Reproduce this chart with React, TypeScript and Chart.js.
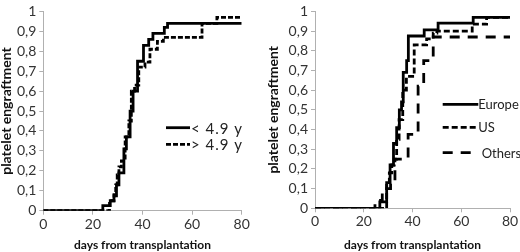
import React, { useEffect, useRef } from "react";
import { Chart, registerables } from "chart.js";

Chart.register(...registerables);

// ---------- data ----------
const xTickLabels = ["0", "20", "40", "60", "80"];
const yTickLabels = ["0", "0,1", "0,2", "0,3", "0,4", "0,5", "0,6", "0,7", "0,8", "0,9", "1"];

// left panel: age groups
const youngLabel = "< 4.9 y";
const youngDays = [0, 24, 27, 28.5, 29.5, 30.5, 32.5, 33.5, 35, 36.2, 38, 40.4, 42.5, 44.2, 48.8, 50.1, 80];
const youngValues = [0, 0.025, 0.05, 0.075, 0.13, 0.19, 0.31, 0.37, 0.5, 0.6, 0.75, 0.83, 0.86, 0.89, 0.92, 0.94, 0.94];

const olderLabel = "> 4.9 y";
const olderDays = [0, 26.7, 28.5, 29.2, 29.8, 30.5, 31.5, 33, 34.5, 35.5, 36.8, 38.5, 41, 43, 46, 48.4, 64, 70, 80];
const olderValues = [0, 0.05, 0.08, 0.13, 0.18, 0.22, 0.25, 0.37, 0.45, 0.6, 0.63, 0.72, 0.745, 0.81, 0.85, 0.87, 0.94, 0.97, 0.97];

// right panel: regions
const europeLabel = "Europe";
const europeDays = [0, 26.6, 29.4, 30.8, 32.2, 33.5, 34.6, 35.5, 36.2, 37.6, 38.3, 44.8, 50.5, 64.9, 80];
const europeValues = [0, 0.033, 0.13, 0.22, 0.33, 0.41, 0.5, 0.54, 0.69, 0.75, 0.875, 0.906, 0.94, 0.97, 0.97];

const usLabel = "US";
const usDays = [0, 29.4, 30.5, 31.5, 32.5, 33.5, 34.5, 36, 37.5, 40.7, 45.8, 48.5, 50, 64.5, 70.4, 80];
const usValues = [0, 0.125, 0.18, 0.22, 0.25, 0.35, 0.45, 0.6, 0.67, 0.83, 0.86, 0.89, 0.9, 0.935, 0.97, 0.97];

const othersLabel = "Others";
const othersDays = [0, 24.6, 27.6, 31, 32.8, 38.2, 42.3, 44.6, 48.5, 80];
const othersValues = [0, 0.04, 0.1, 0.13, 0.25, 0.375, 0.62, 0.75, 0.87, 0.87];

const xTitle = "days from transplantation";
const yTitle = "platelet engraftment";

// ---------- styling ----------
const FONT = "Lato, 'Liberation Sans', sans-serif";
const SOLID: number[] = [];
const SHORT_DASH = [5, 2];
const US_DASH = [6, 3];
const LONG_DASH = [10, 8];

const toPoints = (days: number[], vals: number[]) => days.map((d, i) => ({ x: d, y: vals[i] }));

const legendPlugin = {
  id: "inlineLegend",
  afterDraw(chart: any, _args: any, opts: any) {
    const { ctx } = chart;
    const items = opts.items || [];
    ctx.save();
    items.forEach((it: any) => {
      const ds = chart.data.datasets[it.index];
      ctx.beginPath();
      ctx.setLineDash(ds.borderDash || []);
      ctx.lineWidth = ds.borderWidth;
      ctx.strokeStyle = ds.borderColor;
      ctx.lineCap = "butt";
      ctx.moveTo(it.x1, it.y);
      ctx.lineTo(it.x2, it.y);
      ctx.stroke();
      ctx.setLineDash([]);
      ctx.fillStyle = "#222";
      ctx.font = `${opts.size || 13}px ${FONT}`;
      if ("letterSpacing" in ctx) (ctx as any).letterSpacing = `${opts.spacing || 0}px`;
      ctx.textBaseline = "middle";
      ctx.textAlign = "left";
      ctx.fillText(ds.label, it.tx, it.y + 1);
      if ("letterSpacing" in ctx) (ctx as any).letterSpacing = "0px";
    });
    ctx.restore();
  },
};

function makeConfig(datasets: any[], geom: any, legendOpts: any) {
  return {
    type: "line",
    data: {
      datasets: datasets.map((d) => ({
        label: d.label,
        data: toPoints(d.days, d.values),
        borderColor: "#000",
        borderWidth: d.width,
        borderDash: d.dash,
        pointRadius: 0,
        fill: false,
        stepped: "before",
        tension: 0,
      })),
    },
    options: {
      responsive: false,
      animation: false,
      layout: { padding: { left: 0, top: geom.top, right: geom.right, bottom: 0 } },
      plugins: {
        legend: { display: false },
        tooltip: { enabled: false },
        inlineLegend: legendOpts,
      },
      scales: {
        x: {
          type: "linear",
          min: 0,
          max: 80,
          afterFit: (s: any) => {
            s.height = geom.xHeight;
          },
          ticks: {
            stepSize: 20,
            autoSkip: false,
            maxRotation: 0,
            color: "#333",
            padding: 1,
            font: { family: FONT, size: 14 },
            callback: (_v: any, i: number) => xTickLabels[i],
          },
          grid: { drawOnChartArea: false, drawTicks: true, tickLength: 4, color: "#b0b0b0" },
          border: { color: "#b0b0b0", width: 1 },
          title: {
            display: true,
            text: xTitle,
            color: "#111",
            font: { family: FONT, size: 12, weight: "bold" },
            padding: { top: 0, bottom: 0 },
          },
        },
        y: {
          type: "linear",
          min: 0,
          max: 1,
          afterFit: (s: any) => {
            s.width = geom.yWidth;
          },
          ticks: {
            stepSize: 0.1,
            autoSkip: false,
            color: "#333",
            padding: 3,
            font: { family: FONT, size: 14 },
            callback: (_v: any, i: number) => yTickLabels[i],
          },
          grid: { drawOnChartArea: false, drawTicks: true, tickLength: 4, color: "#b0b0b0" },
          border: { color: "#b0b0b0", width: 1 },
          title: {
            display: true,
            text: yTitle,
            color: "#111",
            font: { family: FONT, size: 14, weight: "bold" },
            padding: { top: geom.yTitlePad, bottom: 0 },
          },
        },
      },
    },
    plugins: [legendPlugin],
  };
}

function Panel({ config, left }: { config: any; left: number }) {
  const ref = useRef<HTMLCanvasElement | null>(null);
  useEffect(() => {
    if (!ref.current) return;
    const chart = new Chart(ref.current, config);
    return () => chart.destroy();
  }, [config]);
  return (
    <canvas
      ref={ref}
      width={260}
      height={252}
      style={{ position: "absolute", left, top: 0, width: 260, height: 252 }}
    />
  );
}

const leftConfig = makeConfig(
  [
    { label: youngLabel, days: youngDays, values: youngValues, dash: SOLID, width: 2.8 },
    { label: olderLabel, days: olderDays, values: olderValues, dash: SHORT_DASH, width: 2.8 },
  ],
  { top: 8.3, right: 18.3, xHeight: 41.3, yWidth: 43.3, yTitlePad: -1.5 },
  {
    size: 15,
    spacing: 1,
    items: [
      { index: 0, x1: 166, x2: 190, tx: 191, y: 127.7 },
      { index: 1, x1: 166, x2: 190, tx: 191, y: 144.3 },
    ],
  }
);

const rightConfig = makeConfig(
  [
    { label: europeLabel, days: europeDays, values: europeValues, dash: SOLID, width: 2.8 },
    { label: usLabel, days: usDays, values: usValues, dash: US_DASH, width: 2.8 },
    { label: othersLabel, days: othersDays, values: othersValues, dash: LONG_DASH, width: 2.8 },
  ],
  { top: 6, right: 10, xHeight: 43.7, yWidth: 55, yTitlePad: 5 },
  {
    size: 13,
    spacing: 0,
    items: [
      { index: 0, x1: 182.7, x2: 218.3, tx: 218.3, y: 104.3 },
      { index: 1, x1: 182.7, x2: 218.3, tx: 218.3, y: 127.3 },
      { index: 2, x1: 182.7, x2: 218.3, tx: 221.7, y: 152.7 },
    ],
  }
);

export default function App() {
  return (
    <div
      style={{
        position: "fixed",
        left: 0,
        top: 0,
        width: 520,
        height: 252,
        background: "#fff",
        overflow: "hidden",
      }}
    >
      <Panel config={leftConfig} left={0} />
      <Panel config={rightConfig} left={260} />
    </div>
  );
}
